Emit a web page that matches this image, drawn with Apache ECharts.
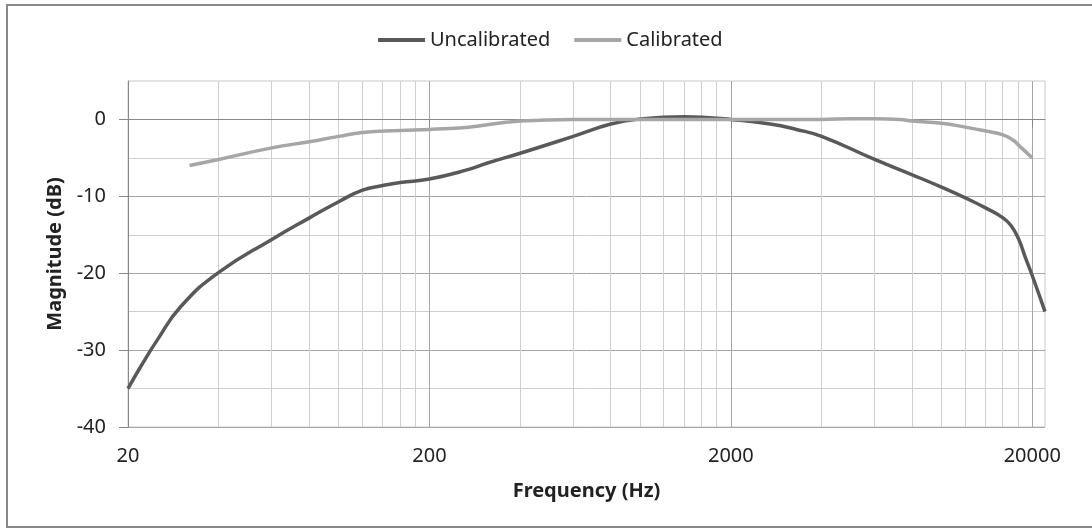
<!DOCTYPE html>
<html>
<head>
<meta charset="utf-8">
<script src="https://cdn.jsdelivr.net/npm/echarts@6/dist/echarts.min.js"></script>
<style>
  html, body { margin: 0; padding: 0; background: #fff; }
  #chart { width: 1092px; height: 529px; }
</style>
</head>
<body>
<div id="chart"></div>
<script>
// frequency response (Hz, dB)
const uncalFreq = [20, 22, 25, 30, 40, 60, 80, 100, 120, 140, 160, 200, 270, 310, 400, 600, 800, 1000, 1400, 1600, 2000, 2700, 3300, 4000, 6000, 8000, 10000, 12000, 14000, 16000, 17000, 18000, 19000, 20000, 22050]
const uncalDb = [-35, -32.2, -28.7, -24.3, -19.9, -15.6, -12.8, -10.7, -9.2, -8.6, -8.2, -7.75, -6.5, -5.7, -4.4, -2.2, -0.6, 0.05, 0.35, 0.3, 0, -0.6, -1.3, -2.2, -5.2, -7.2, -8.8, -10.2, -11.5, -12.8, -13.8, -15.5, -18.0, -20.3, -25]
const calFreq = [32, 40, 60, 80, 100, 120, 160, 200, 270, 400, 600, 1000, 2000, 4000, 5000, 6000, 7300, 8000, 10000, 12000, 14000, 16000, 17300, 18200, 20000]
const calDb = [-6.0, -5.2, -3.7, -2.9, -2.2, -1.7, -1.45, -1.3, -1.0, -0.2, 0, 0, 0, 0, 0.1, 0.1, 0, -0.2, -0.5, -1.0, -1.5, -2.0, -2.7, -3.5, -5.0]
const freqTicks = [20, 200, 2000, 20000]
const dbTicks = [-40, -30, -20, -10, 0]

const font = 'Noto Sans'
const myChart = echarts.init(document.getElementById('chart'))

function pairs (xs, ys) {
  return xs.map((x, i) => [x, ys[i]])
}

const option = {
  animation: false,
  textStyle: { fontFamily: font },
  graphic: [{
    type: 'rect',
    shape: { x: 7, y: 5, width: 1100, height: 522 },
    style: { fill: 'none', stroke: '#888', lineWidth: 2 },
    silent: true
  }],
  legend: {
    top: 25,
    left: 373,
    itemGap: 24,
    itemWidth: 47,
    itemHeight: 4,
    icon: 'rect',
    textStyle: { fontFamily: font, fontSize: 20, color: '#222' },
    data: ['Uncalibrated', 'Calibrated']
  },
  grid: { left: 128, right: 47, top: 81, bottom: 102, show: true, borderColor: '#c8c8c8', borderWidth: 1 },
  xAxis: {
    type: 'log',
    logBase: 10,
    min: 20,
    max: 22050,
    interval: 1,
    name: 'Frequency (Hz)',
    nameLocation: 'middle',
    nameGap: 54,
    nameTextStyle: { fontFamily: font, fontSize: 20, fontWeight: 'bold', color: '#222' },
    axisLine: { show: true, lineStyle: { color: '#888', width: 1 } },
    axisTick: { show: true, length: 8, lineStyle: { color: '#888' }, customValues: freqTicks },
    axisLabel: {
      margin: 19, fontFamily: font, fontSize: 20, color: '#222',
      customValues: freqTicks,
      formatter: v => String(Math.round(v))
    },
    splitLine: { show: true, lineStyle: { color: '#a6a6a6' } },
    minorTick: { show: false, splitNumber: 9 },
    minorSplitLine: { show: true, lineStyle: { color: '#cfcfcf' } }
  },
  yAxis: {
    type: 'value',
    min: -40,
    max: 5,
    interval: 10,
    name: 'Magnitude (dB)',
    nameLocation: 'middle',
    nameGap: 62,
    nameTextStyle: { fontFamily: font, fontSize: 20, fontWeight: 'bold', color: '#222' },
    axisLine: { show: true, lineStyle: { color: '#888', width: 1 } },
    axisTick: { show: true, length: 9, lineStyle: { color: '#888' }, customValues: dbTicks },
    axisLabel: { margin: 22, fontFamily: font, fontSize: 20, color: '#222', customValues: dbTicks },
    splitLine: { show: true, lineStyle: { color: '#a6a6a6' } },
    minorTick: { show: false, splitNumber: 2 },
    minorSplitLine: { show: true, lineStyle: { color: '#d0d0d0' } }
  },
  series: [
    {
      name: 'Uncalibrated',
      type: 'line',
      smooth: 0.5,
      symbol: 'none',
      data: pairs(uncalFreq, uncalDb),
      itemStyle: { color: '#595959' },
      lineStyle: { color: '#595959', width: 3.5 }
    },
    {
      name: 'Calibrated',
      type: 'line',
      smooth: 0.5,
      symbol: 'none',
      data: pairs(calFreq, calDb),
      itemStyle: { color: '#a6a6a6' },
      lineStyle: { color: '#a6a6a6', width: 3.5 }
    }
  ]
}
myChart.setOption(option)
</script>
</body>
</html>
